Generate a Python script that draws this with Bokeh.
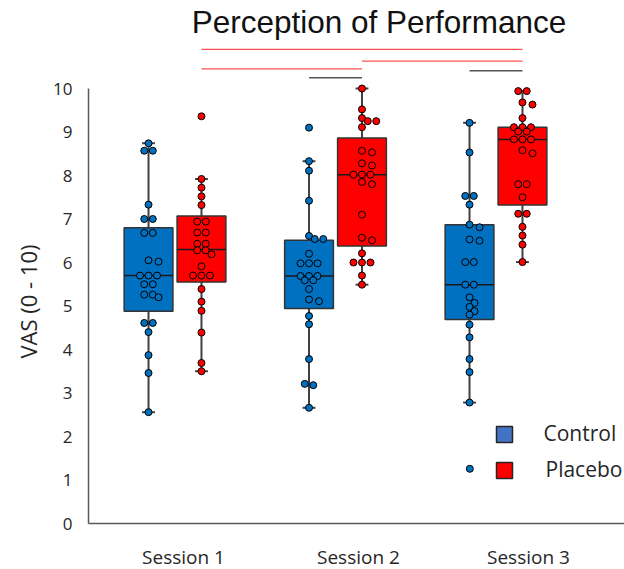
import math
from bokeh.plotting import figure
from bokeh.models import Range1d, Label, FixedTicker, ColumnDataSource
from bokeh.embed import file_html
from bokeh.resources import INLINE

# ---------------- data ----------------
sessions = ["Session 1", "Session 2", "Session 3"]
groups = ["Control", "Placebo"]

control_s1 = [8.74, 8.57, 8.57, 7.33, 7.00, 7.00, 6.68, 6.68, 6.05, 6.02, 5.70, 5.70,
              5.70, 5.50, 5.50, 5.26, 5.26, 5.20, 4.61, 4.61, 4.40, 3.87, 3.46, 2.56]
placebo_s1 = [9.36, 7.92, 7.72, 7.52, 7.32, 6.94, 6.94, 6.69, 6.69, 6.43, 6.43, 6.28,
              6.28, 6.19, 5.91, 5.70, 5.70, 5.70, 5.39, 5.10, 4.89, 4.39, 3.69, 3.50]
control_s2 = [9.10, 8.33, 8.11, 7.42, 6.61, 6.54, 6.54, 6.20, 5.98, 5.98, 5.98, 5.69,
              5.69, 5.69, 5.59, 5.59, 5.39, 5.15, 5.11, 4.77, 4.58, 3.78, 3.21, 3.18, 2.66]
placebo_s2 = [10.0, 9.52, 9.32, 9.25, 9.25, 9.11, 8.57, 8.53, 8.28, 8.23, 8.02, 8.02,
              8.02, 7.85, 7.80, 7.10, 6.57, 6.51, 6.21, 6.00, 6.00, 6.00, 5.70, 5.49]
control_s3 = [9.21, 8.53, 7.53, 7.53, 7.33, 6.87, 6.81, 6.53, 6.50, 6.01, 6.01, 5.49,
              5.49, 5.20, 5.07, 4.98, 4.88, 4.80, 4.57, 4.28, 3.78, 3.48, 2.78]
placebo_s3 = [9.94, 9.94, 9.68, 9.63, 9.32, 9.11, 9.11, 9.11, 9.01, 9.01, 8.83, 8.83,
              8.83, 8.58, 8.51, 7.80, 7.80, 7.50, 7.12, 7.12, 6.82, 6.62, 6.41, 6.01]

# box statistics per session
control_low = [2.56, 2.66, 2.78]
control_q1 = [4.88, 4.94, 4.69]
control_med = [5.70, 5.69, 5.49]
control_q3 = [6.80, 6.51, 6.87]
control_high = [8.74, 8.33, 9.21]
placebo_low = [3.50, 5.49, 6.01]
placebo_q1 = [5.55, 6.38, 7.32]
placebo_med = [6.30, 8.02, 8.83]
placebo_q3 = [7.07, 8.86, 9.11]
placebo_high = [7.92, 10.0, 9.94]

y_ticks = [0, 1, 2, 3, 4, 5, 6, 7, 8, 9, 10]

# significance bars: (group, session, group, session, height)
sig_red = [("Placebo", 1, "Placebo", 3, 10.90),
           ("Placebo", 2, "Placebo", 3, 10.63),
           ("Placebo", 1, "Placebo", 2, 10.45)]
sig_gray = [("Control", 2, "Placebo", 2, 10.25),
            ("Control", 3, "Placebo", 3, 10.41)]

# ---------------- layout / style ----------------
W, H = 624, 569
PPU_X = 160.5     # pixels per x unit
PPU_Y = 43.5      # pixels per y unit
PX_S1 = 174.5     # pixel column of session 1 centre
PX_Y0 = 523       # pixel row of y = 0
PX_AXIS = 88      # pixel column of the y axis


def dx(px):
    return 1 + (px - PX_S1) / PPU_X


def dy(py):
    return (PX_Y0 - py) / PPU_Y


GROUP_OFF = {"Control": -0.165, "Placebo": 0.165}
BOX_W = 0.304
CAP_HALF = 0.04
BOX_FILL = {"Control": "#0070C0", "Placebo": "#FF0000"}
LEG_FILL = {"Control": "#4472C4", "Placebo": "#FF0000"}
DARK = "#333333"
AXIS_COL = "#595959"
TXT = "#262626"
TICK_LABEL_X = [1.053, 2.143, 3.202]

data = {"Control": [control_s1, control_s2, control_s3],
        "Placebo": [placebo_s1, placebo_s2, placebo_s3]}
stats = {"Control": (control_low, control_q1, control_med, control_q3, control_high),
         "Placebo": (placebo_low, placebo_q1, placebo_med, placebo_q3, placebo_high)}


def swarm(vals, step_px=5.0, row_px=8.5, diam_px=6.0):
    """simple centred beeswarm: returns x offsets in pixels"""
    order = sorted(range(len(vals)), key=lambda i: -vals[i])
    tiers, i = [], 0
    while i < len(order):
        tier = [order[i]]
        j = i + 1
        while j < len(order) and abs(vals[order[j]] - vals[order[i]]) < 0.03:
            tier.append(order[j])
            j += 1
        tiers.append(tier)
        i = j
    placed = []
    offs = [0.0] * len(vals)
    for tier in tiers:
        n = len(tier)
        base = [(k - (n - 1) / 2) * row_px for k in range(n)]
        for m in range(40):
            c = step_px * ((m + 1) // 2) * (1 if m % 2 == 1 else -1)
            ok = True
            for k, idx in enumerate(tier):
                xp, yp = c + base[k], vals[idx] * PPU_Y
                for (qx, qy) in placed:
                    if math.hypot(xp - qx, yp - qy) < diam_px:
                        ok = False
                        break
                if not ok:
                    break
            if ok:
                for k, idx in enumerate(tier):
                    offs[idx] = c + base[k]
                    placed.append((c + base[k], vals[idx] * PPU_Y))
                break
    return offs


p = figure(width=W, height=H, x_range=Range1d(dx(0), dx(W)), y_range=Range1d(dy(H), dy(0)),
           output_backend="svg", toolbar_location=None,
           min_border_left=0, min_border_right=0, min_border_top=0, min_border_bottom=0)
p.outline_line_color = None
p.grid.visible = False
p.background_fill_color = "white"
p.border_fill_color = "white"

# axes (drawn at fixed places inside the frame)
p.xaxis.fixed_location = 0
p.xaxis.bounds = (dx(PX_AXIS), dx(W))
p.xaxis.ticker = FixedTicker(ticks=[])
p.xaxis.major_tick_line_color = None
p.xaxis.minor_tick_line_color = None
p.xaxis.major_label_text_font_size = "0px"
p.xaxis.axis_line_color = AXIS_COL
p.xaxis.axis_line_width = 1.5

p.yaxis.fixed_location = dx(PX_AXIS)
p.yaxis.ticker = FixedTicker(ticks=y_ticks)
p.yaxis.bounds = (0, 10)
p.yaxis.major_tick_line_color = None
p.yaxis.minor_tick_line_color = None
p.yaxis.major_tick_out = 0
p.yaxis.major_tick_in = 0
p.yaxis.major_label_standoff = 16
p.yaxis.major_label_text_font = "Open Sans"
p.yaxis.major_label_text_font_size = "17px"
p.yaxis.major_label_text_color = TXT
p.yaxis.axis_line_color = AXIS_COL
p.yaxis.axis_line_width = 1.5

# boxes
for g in groups:
    low, q1, med, q3, high = stats[g]
    xs = [s + 1 + GROUP_OFF[g] for s in range(len(sessions))]
    src = ColumnDataSource(dict(x=xs, low=low, q1=q1, med=med, q3=q3, high=high,
                                cl=[x - CAP_HALF for x in xs], cr=[x + CAP_HALF for x in xs],
                                bl=[x - BOX_W / 2 for x in xs], br=[x + BOX_W / 2 for x in xs]))
    p.segment(x0="x", y0="low", x1="x", y1="high", source=src, line_color="#404040", line_width=2)
    p.segment(x0="cl", y0="low", x1="cr", y1="low", source=src, line_color="#404040", line_width=2)
    p.segment(x0="cl", y0="high", x1="cr", y1="high", source=src, line_color="#404040", line_width=2)
    p.vbar(x="x", width=BOX_W, bottom="q1", top="q3", source=src, fill_color=BOX_FILL[g],
           line_color=DARK, line_width=1.5)
    p.segment(x0="bl", y0="med", x1="br", y1="med", source=src, line_color="#1a1a1a", line_width=1.5)

# points
for g in groups:
    for s, vals in enumerate(data[g]):
        offs = swarm(vals)
        cx = s + 1 + GROUP_OFF[g]
        p.scatter(x=[cx + o / PPU_X for o in offs], y=vals, size=7, marker="circle",
                  fill_color=BOX_FILL[g], line_color="black", line_width=1)

# significance bars
for lst, col, lw in ((sig_red, "#FF5050", 1.2), (sig_gray, "#555555", 1.5)):
    xa = [sa + GROUP_OFF[ga] for (ga, sa, gb, sb, h) in lst]
    xb = [sb + GROUP_OFF[gb] for (ga, sa, gb, sb, h) in lst]
    hs = [h for (*_, h) in lst]
    p.segment(x0=xa, y0=hs, x1=xb, y1=hs, line_color=col, line_width=lw)

# texts
p.add_layout(Label(x=dx(378.5), y=dy(21), text="Perception of Performance",
                   text_font="Liberation Sans", text_font_size="31.5px", text_color="#111111",
                   text_align="center", text_baseline="middle"))
p.add_layout(Label(x=dx(27.5), y=dy(301), text="VAS (0 - 10)", angle=math.pi / 2,
                   text_font="Open Sans", text_font_size="22px", text_color=TXT,
                   text_align="center", text_baseline="middle"))
for lx, name in zip(TICK_LABEL_X, sessions):
    p.add_layout(Label(x=lx, y=dy(556), text=name, text_font="Open Sans",
                       text_font_size="19px", text_color=TXT, text_align="center",
                       text_baseline="middle"))

# legend
leg_y = {"Control": dy(434), "Placebo": dy(470)}
lab_x = {"Control": dx(543), "Placebo": dx(545)}
for g in groups:
    p.scatter(x=[dx(504)], y=[leg_y[g]], marker="square", size=16, fill_color=LEG_FILL[g],
              line_color=TXT, line_width=1.5)
    p.add_layout(Label(x=lab_x[g], y=leg_y[g] + 0.04, text=g, text_font="Open Sans",
                       text_font_size="21px", text_color=TXT, text_align="left",
                       text_baseline="middle"))
p.scatter(x=[dx(469.3)], y=[dy(468.3)], size=7, marker="circle",
          fill_color=BOX_FILL["Control"], line_color="black", line_width=1)

open("out.html", "w").write(file_html(p, INLINE))
